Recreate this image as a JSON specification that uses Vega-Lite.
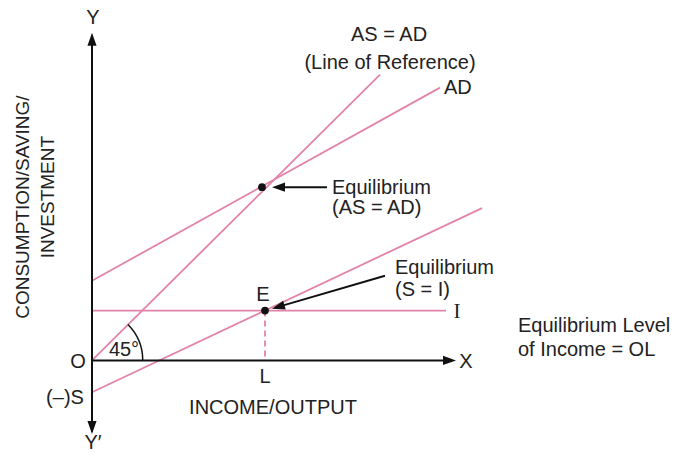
{
  "$schema": "https://vega.github.io/schema/vega-lite/v6.json",
  "width": 679,
  "height": 453,
  "autosize": {"type": "fit", "contains": "padding"},
  "padding": 0,
  "background": "white",
  "config": {"view": {"stroke": null}},
  "datasets": {
    "pink": [
      {"line": "AS=AD", "x": 0, "y": 0},
      {"line": "AS=AD", "x": 288, "y": 287},
      {"line": "AD", "x": 0, "y": 80},
      {"line": "AD", "x": 348, "y": 274},
      {"line": "I", "x": 0, "y": 50},
      {"line": "I", "x": 354, "y": 50},
      {"line": "S", "x": 0, "y": -32},
      {"line": "S", "x": 390, "y": 153}
    ],
    "dashed": [
      {"x": 173, "y": 50},
      {"x": 173, "y": 0}
    ],
    "black": [
      {"seg": "Yaxis", "x": 0, "y": 320},
      {"seg": "Yaxis", "x": 0, "y": -72},
      {"seg": "Xaxis", "x": 0, "y": 0},
      {"seg": "Xaxis", "x": 356, "y": 0},
      {"seg": "arrowAD", "x": 235, "y": 174},
      {"seg": "arrowAD", "x": 186, "y": 174},
      {"seg": "arrowSI", "x": 293, "y": 85},
      {"seg": "arrowSI", "x": 187, "y": 54}
    ],
    "heads": [
      {"dir": "up", "x": 0, "y": 322.5},
      {"dir": "down", "x": 0, "y": -67.5},
      {"dir": "right", "x": 357.5, "y": 0},
      {"dir": "left", "x": 186.5, "y": 174},
      {"dir": "downleft", "x": 186.2, "y": 53.8}
    ],
    "dots": [
      {"x": 170, "y": 174},
      {"x": 173, "y": 50}
    ],
    "origin": [{"x": 0, "y": 0}],
    "centerLabels": [
      {"label": "Y", "x": 1, "y": 344},
      {"label": "Y′", "x": 1, "y": -83},
      {"label": "O", "x": -14, "y": -2},
      {"label": "(–)S", "x": -27, "y": -38},
      {"label": "E", "x": 171, "y": 66},
      {"label": "L", "x": 173, "y": -17},
      {"label": "INCOME/OUTPUT", "x": 181, "y": -48},
      {"label": "X", "x": 374, "y": -2},
      {"label": "AS = AD", "x": 297, "y": 327},
      {"label": "(Line of Reference)", "x": 298, "y": 299}
    ],
    "angleLabel": [
      {"label": "45°", "x": 32, "y": 10}
    ],
    "leftLabels": [
      {"label": "AD", "x": 352, "y": 274},
      {"label": "Equilibrium", "x": 240, "y": 173},
      {"label": "(AS = AD)", "x": 240, "y": 153},
      {"label": "Equilibrium", "x": 303, "y": 93},
      {"label": "(S = I)", "x": 303, "y": 71},
      {"label": "Equilibrium Level", "x": 426, "y": 35},
      {"label": "of Income = OL", "x": 426, "y": 10}
    ],
    "serifLabels": [
      {"label": "I", "x": 365, "y": 49}
    ],
    "verticalLabels": [
      {"label": "CONSUMPTION/SAVING/", "x": -69, "y": 154},
      {"label": "INVESTMENT", "x": -44, "y": 164}
    ]
  },
  "encoding": {
    "x": {"field": "x", "type": "quantitative", "scale": {"domain": [-92, 587], "nice": false, "zero": false}, "axis": null},
    "y": {"field": "y", "type": "quantitative", "scale": {"domain": [-91, 362], "nice": false, "zero": false}, "axis": null}
  },
  "layer": [
    {
      "data": {"name": "pink"},
      "mark": {"type": "line", "color": "#e283aa", "strokeWidth": 1.8},
      "encoding": {"detail": {"field": "line"}}
    },
    {
      "data": {"name": "dashed"},
      "mark": {"type": "line", "color": "#e283aa", "strokeWidth": 1.8, "strokeDash": [6, 4]},
      "encoding": {}
    },
    {
      "data": {"name": "black"},
      "mark": {"type": "line", "color": "#111111", "strokeWidth": 2},
      "encoding": {"detail": {"field": "seg"}}
    },
    {
      "data": {"name": "heads"},
      "transform": [{"filter": "datum.dir === 'up'"}],
      "mark": {"type": "point", "filled": true, "color": "#111111", "opacity": 1, "size": 169, "shape": "M0,-1L0.7,1L-0.7,1Z"}
    },
    {
      "data": {"name": "heads"},
      "transform": [{"filter": "datum.dir === 'down'"}],
      "mark": {"type": "point", "filled": true, "color": "#111111", "opacity": 1, "size": 169, "shape": "M0,1L0.7,-1L-0.7,-1Z"}
    },
    {
      "data": {"name": "heads"},
      "transform": [{"filter": "datum.dir === 'right'"}],
      "mark": {"type": "point", "filled": true, "color": "#111111", "opacity": 1, "size": 169, "shape": "M1,0L-1,0.7L-1,-0.7Z"}
    },
    {
      "data": {"name": "heads"},
      "transform": [{"filter": "datum.dir === 'left'"}],
      "mark": {"type": "point", "filled": true, "color": "#111111", "opacity": 1, "size": 169, "shape": "M-1,0L1,0.7L1,-0.7Z"}
    },
    {
      "data": {"name": "heads"},
      "transform": [{"filter": "datum.dir === 'downleft'"}],
      "mark": {"type": "point", "filled": true, "color": "#111111", "opacity": 1, "size": 169, "shape": "M1,0L-1,0.7L-1,-0.7Z", "angle": 163.7}
    },
    {
      "data": {"name": "dots"},
      "mark": {"type": "circle", "color": "#111111", "opacity": 1, "size": 60}
    },
    {
      "data": {"name": "origin"},
      "mark": {"type": "arc", "color": "#111111", "radius": 51.5, "radius2": 50, "theta": 0.7854, "theta2": 1.5708}
    },
    {
      "data": {"name": "centerLabels"},
      "mark": {"type": "text", "font": "Liberation Sans", "fontSize": 20, "color": "#222222", "align": "center", "baseline": "middle"},
      "encoding": {"text": {"field": "label"}}
    },
    {
      "data": {"name": "angleLabel"},
      "mark": {"type": "text", "font": "Liberation Sans", "fontSize": 20, "color": "#222222", "align": "center", "baseline": "middle"},
      "encoding": {"text": {"field": "label"}}
    },
    {
      "data": {"name": "leftLabels"},
      "mark": {"type": "text", "font": "Liberation Sans", "fontSize": 20, "color": "#222222", "align": "left", "baseline": "middle"},
      "encoding": {"text": {"field": "label"}}
    },
    {
      "data": {"name": "serifLabels"},
      "mark": {"type": "text", "font": "Liberation Serif", "fontSize": 21, "color": "#222222", "align": "center", "baseline": "middle"},
      "encoding": {"text": {"field": "label"}}
    },
    {
      "data": {"name": "verticalLabels"},
      "mark": {"type": "text", "font": "Liberation Sans", "fontSize": 19, "color": "#222222", "align": "center", "baseline": "middle", "angle": 270},
      "encoding": {"text": {"field": "label"}}
    }
  ]
}
